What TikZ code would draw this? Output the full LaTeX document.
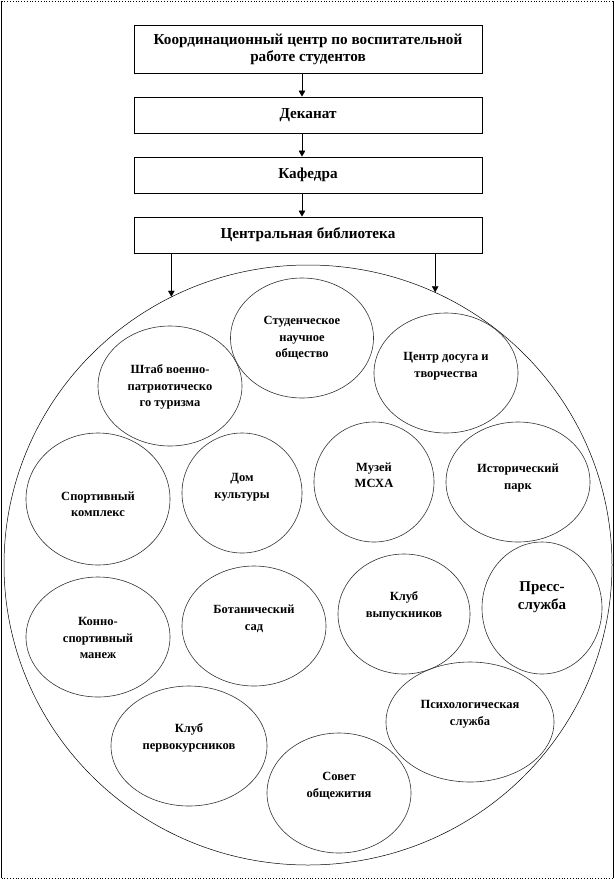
\documentclass[tikz,border=0pt]{standalone}
\usepackage{fontspec}
\setmainfont{Liberation Serif}
\usetikzlibrary{shapes.geometric,arrows.meta}

\tikzset{
  box/.style={draw, line width=0.8pt, minimum width=348pt, inner sep=2pt, align=center, font=\fontsize{15.2}{17}\selectfont\bfseries},
  org/.style={draw=black!80, ellipse, inner sep=0pt, line width=0.6pt},
  txt/.style={align=center, inner sep=0pt, font=\fontsize{12.5}{16.5}\selectfont\bfseries}
}

\begin{document}
\begin{tikzpicture}[x=1pt,y=-1pt,>={Triangle[width=6.5pt,length=6pt]}]
\useasboundingbox (0,0) rectangle (615,879);
% frame
\draw [line width=0.8pt] (1.5,1) -- (1.5,878) (613.5,1) -- (613.5,878); \draw [dotted, line width=0.8pt] (1.5,1) -- (613.5,1) (1.5,878) -- (613.5,878);
% management chain
\node[box, minimum height=48pt] (kc) at (308,49) {Координационный центр по воспитательной\\работе студентов};
\node[box, minimum height=36pt] (dek) at (308,115) {Деканат};
\node[box, minimum height=36pt] (kaf) at (308,175) {Кафедра};
\node[box, minimum height=36pt] (lib) at (308,235) {Центральная библиотека};
\foreach \a/\b in {kc/dek,dek/kaf,kaf/lib} { \draw [->] ([xshift=-6pt]\a.south) -- ([xshift=-6pt]\b.north); };
% outer circle
\node[draw, ellipse, inner sep=0pt, line width=0.5pt, minimum width=608pt, minimum height=600pt] (sys) at (308,565) {};
\draw [->] (lib.south -| sys.117) -- (sys.117); \draw [->] (lib.south -| sys.65) -- (sys.65);
% units
\foreach \n/\x/\y/\w/\h in {sno/302/338/143/120,shtab/170/386/144/120,dosug/446/373/144/120,sport/98/499/144/132,dk/242/493/120/120,muz/374/482/120/120,park/518/482/144/120,kon/98/637/144/120,bot/254/626/144/120,vyp/404/614/132/120,press/542/608/120/132,psy/470/722/168/120,perv/189/746/156/120,sovet/339/793/144/120} { \node[org, minimum width=\w, minimum height=\h] (\n) at (\x,\y) {}; };
\node[txt] (sno-t) at (302,338) {Студенческое\\научное\\общество};
\node[txt] (shtab-t) at (170,387) {Штаб военно-\\патриотическо\\го туризма};
\node[txt] (dosug-t) at (446,366) {Центр досуга и\\творчества};
\node[txt] (sport-t) at (98,504) {Спортивный\\комплекс};
\node[txt] (dk-t) at (242,487) {Дом\\культуры};
\node[txt] (muz-t) at (374,475) {Музей\\МСХА};
\node[txt] (park-t) at (518,478) {Исторический\\парк};
\node[txt] (kon-t) at (98,638) {Конно-\\спортивный\\манеж};
\node[txt] (bot-t) at (254,619) {Ботанический\\сад};
\node[txt] (vyp-t) at (404,606) {Клуб\\выпускников};
\node[txt, font=\fontsize{15}{17.5}\selectfont\bfseries] (press-t) at (542,597) {Пресс-\\служба};
\node[txt] (psy-t) at (470,714) {Психологическая\\служба};
\node[txt] (perv-t) at (189,738) {Клуб\\первокурсников};
\node[txt] (sovet-t) at (339,786) {Совет\\общежития};
\end{tikzpicture}
\end{document}
